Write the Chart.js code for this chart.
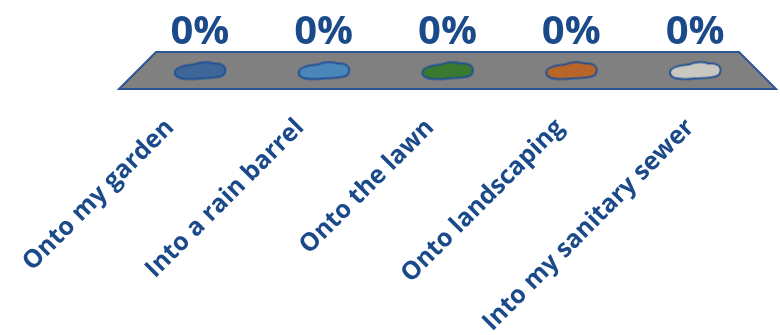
<!DOCTYPE html>
<html>
<head>
<meta charset="utf-8">
<script src="https://cdn.jsdelivr.net/npm/chart.js@4/dist/chart.umd.min.js"></script>
<style>
  html, body { margin: 0; padding: 0; background: #fff; }
  #wrap { width: 780px; height: 335px; }
</style>
</head>
<body>
<div id="wrap"><canvas id="grafico"></canvas></div>
<script>
const categorias = ["Onto my garden", "Into a rain barrel", "Onto the lawn", "Onto landscaping", "Into my sanitary sewer"];
const valores = [0, 0, 0, 0, 0];
const coresPoca = ["#3F6699", "#4A86B8", "#3A7A30", "#B8652A", "#C8C8C0"];

const AZUL = "#1B4A8A";
const FONTE = "'Open Sans', sans-serif";

// desenha uma "poça" irregular num canvas pequeno para usar como pointStyle
function criarPoca(cor) {
    const c = document.createElement("canvas");
    c.width = 58; c.height = 24;
    const ctx = c.getContext("2d");
    ctx.translate(29, 12);
    ctx.beginPath();
    ctx.moveTo(-25, 3);
    ctx.bezierCurveTo(-26, -4, -14, -5, -6, -6);
    ctx.bezierCurveTo(0, -9, 9, -9, 13, -7);
    ctx.bezierCurveTo(22, -8, 27, -4, 25, 2);
    ctx.bezierCurveTo(24, 8, 10, 7, 0, 8);
    ctx.bezierCurveTo(-10, 9, -24, 9, -25, 3);
    ctx.closePath();
    ctx.fillStyle = cor;
    ctx.fill();
    ctx.lineWidth = 1.8;
    ctx.strokeStyle = "#1F4F96";
    ctx.stroke();
    return c;
}

// chão cinzento em perspectiva
const pluginChao = {
    id: "chao",
    beforeDatasetsDraw(chart) {
        const { ctx, chartArea: a } = chart;
        ctx.save();
        ctx.beginPath();
        ctx.moveTo(a.left + 18, a.top);
        ctx.lineTo(a.right - 18, a.top);
        ctx.lineTo(a.right + 19, a.bottom);
        ctx.lineTo(a.left - 19, a.bottom);
        ctx.closePath();
        ctx.fillStyle = "#808080";
        ctx.fill();
        ctx.lineWidth = 2;
        ctx.strokeStyle = "#2C5596";
        ctx.stroke();
        ctx.restore();
    }
};

// percentagens por cima de cada poça
const pluginPercent = {
    id: "percent",
    afterDatasetsDraw(chart) {
        const { ctx } = chart;
        const x = chart.scales.x;
        ctx.save();
        ctx.font = "bold 40px " + FONTE;
        ctx.fillStyle = AZUL;
        ctx.textAlign = "center";
        ctx.textBaseline = "alphabetic";
        valores.forEach((v, i) => {
            ctx.fillText(v + "%", x.getPixelForValue(i), 44);
        });
        ctx.restore();
    }
};

new Chart(document.getElementById("grafico"), {
    type: "line",
    data: {
        labels: categorias,
        datasets: [{
            data: valores,
            showLine: false,
            pointStyle: coresPoca.map(criarPoca),
            pointRadius: 10
        }]
    },
    options: {
        responsive: true,
        maintainAspectRatio: false,
        animation: false,
        layout: { padding: { top: 52, left: 138, right: 23, bottom: 0 } },
        plugins: { legend: { display: false }, tooltip: { enabled: false } },
        scales: {
            y: { display: false, min: -1, max: 1 },
            x: { offset: true, display: false },
            // eixo só para os rótulos (espaçamento um pouco maior que as poças)
            rotulos: {
                type: "linear",
                position: "bottom",
                min: -0.5,
                max: 4.26,
                grid: { display: false, drawTicks: false },
                border: { display: false },
                afterBuildTicks: (s) => { s.ticks = categorias.map((_, i) => ({ value: i })); },
                afterFit: (s) => { s.height = 246; },
                ticks: {
                    autoSkip: false,
                    minRotation: 45,
                    maxRotation: 45,
                    padding: 24,
                    labelOffset: -33,
                    color: AZUL,
                    font: { family: FONTE, size: 25, weight: "bold" },
                    callback: (v) => categorias[v]
                }
            }
        }
    },
    plugins: [pluginChao, pluginPercent]
});
</script>
</body>
</html>
